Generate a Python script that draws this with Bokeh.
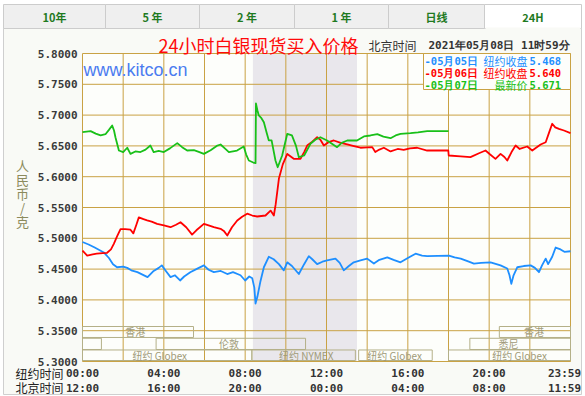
from bokeh.plotting import figure
from bokeh.models import Range1d
from bokeh.core.properties import value
from bokeh.embed import file_html
from bokeh.resources import INLINE

# ---------------- data ----------------
blue_h = [0.0, 0.3, 0.6, 1.05, 1.3, 1.5, 1.7, 2.0, 2.2, 2.4, 2.7, 2.95, 3.2, 3.5, 3.75, 3.9, 4.1, 4.33,
          4.55, 4.8, 5.0, 5.3, 5.6, 5.97, 6.2, 6.46, 6.8, 7.12, 7.4, 7.77, 8.0, 8.2, 8.35, 8.45, 8.51,
          8.6, 8.75, 8.92, 9.16, 9.4, 9.66, 9.9, 10.07, 10.3, 10.64, 10.9, 11.13, 11.3, 11.54, 11.8,
          12.03, 12.44, 12.65, 12.85, 13.1, 13.34, 13.67, 14.0, 14.33, 14.6, 14.99, 15.3, 15.64, 16.0,
          16.38, 16.7, 16.95, 18.02, 18.3, 18.6, 19.0, 19.25, 19.6, 20.07, 20.56, 20.89, 21.0, 21.09,
          21.2, 21.38, 21.7, 22.04, 22.25, 22.45, 22.6, 22.78, 22.9, 23.1, 23.27, 23.51, 23.7, 24.0]
blue_v = [5.494, 5.490, 5.485, 5.477, 5.468, 5.458, 5.453, 5.454, 5.452, 5.448, 5.445, 5.441, 5.437,
          5.447, 5.452, 5.456, 5.447, 5.437, 5.440, 5.4315, 5.438, 5.445, 5.450, 5.456, 5.449, 5.445,
          5.447, 5.442, 5.445, 5.440, 5.4315, 5.438, 5.435, 5.420, 5.394, 5.405, 5.430, 5.453, 5.470,
          5.466, 5.458, 5.448, 5.461, 5.455, 5.442, 5.458, 5.471, 5.466, 5.458, 5.462, 5.464, 5.467,
          5.460, 5.448, 5.455, 5.461, 5.464, 5.467, 5.459, 5.465, 5.469, 5.465, 5.461, 5.468, 5.475,
          5.472, 5.471, 5.472, 5.469, 5.467, 5.462, 5.459, 5.460, 5.461, 5.456, 5.451, 5.440, 5.426,
          5.440, 5.453, 5.455, 5.456, 5.452, 5.445, 5.456, 5.467, 5.458, 5.470, 5.485, 5.482, 5.478,
          5.479]

red_h = [0.0, 0.23, 0.5, 0.7, 1.0, 1.21, 1.4, 1.54, 1.7, 1.87, 2.1, 2.36, 2.5, 2.65, 2.77, 3.0, 3.18,
         3.4, 3.67, 4.0, 4.33, 4.6, 4.82, 5.1, 5.39, 5.6, 5.97, 6.2, 6.46, 6.79, 6.95, 7.12, 7.35, 7.61,
         7.85, 8.1, 8.35, 8.59, 9.0, 9.25, 9.41, 9.5, 9.66, 9.85, 10.07, 10.39, 10.72, 10.9, 11.05, 11.3,
         11.54, 11.7, 11.87, 12.1, 12.36, 12.7, 13.02, 13.3, 13.67, 14.0, 14.25, 14.4, 14.6, 14.82,
         15.15, 15.5, 15.8, 16.1, 16.46, 16.95, 17.99, 18.01, 18.6, 19.08, 19.5, 19.82, 20.05, 20.31,
         20.56, 20.75, 20.89, 21.1, 21.3, 21.5, 21.87, 22.12, 22.53, 22.78, 22.95, 23.1, 23.25, 23.43,
         23.68, 24.0]
red_v = [5.480, 5.472, 5.474, 5.475, 5.476, 5.4765, 5.482, 5.491, 5.503, 5.515, 5.515, 5.514, 5.508,
         5.522, 5.534, 5.531, 5.529, 5.527, 5.5235, 5.521, 5.518, 5.522, 5.526, 5.518, 5.506, 5.513,
         5.5235, 5.521, 5.518, 5.5154, 5.512, 5.5045, 5.518, 5.529, 5.535, 5.540, 5.537, 5.5354, 5.537,
         5.545, 5.537, 5.555, 5.597, 5.620, 5.637, 5.629, 5.629, 5.640, 5.6506, 5.657, 5.664, 5.660,
         5.6506, 5.656, 5.6588, 5.655, 5.6523, 5.650, 5.647, 5.6475, 5.648, 5.640, 5.644, 5.647, 5.641,
         5.645, 5.6436, 5.646, 5.647, 5.6425, 5.6425, 5.6344, 5.633, 5.6317, 5.638, 5.6425, 5.636,
         5.629, 5.637, 5.632, 5.6263, 5.640, 5.6506, 5.645, 5.649, 5.6425, 5.6523, 5.656, 5.672, 5.686,
         5.680, 5.6777, 5.675, 5.6707]

green_h = [0.0, 0.4, 0.65, 0.89, 1.13, 1.3, 1.46, 1.55, 1.62, 1.79, 2.0, 2.2, 2.36, 2.6, 2.85, 3.1,
           3.34, 3.5, 3.75, 4.0, 4.3, 4.66, 4.9, 5.15, 5.48, 5.75, 5.97, 6.3, 6.6, 6.79, 7.0, 7.2, 7.6,
           7.93, 8.05, 8.18, 8.4, 8.51, 8.53, 8.6, 8.67, 8.8, 8.92, 9.05, 9.16, 9.3, 9.49, 9.6, 9.82,
           10.07, 10.3, 10.5, 10.64, 10.9, 11.21, 11.45, 11.7, 12.03, 12.52, 12.75, 13.02, 13.5, 13.84,
           14.16, 14.5, 14.8, 15.15, 15.4, 15.64, 16.13, 16.5, 16.95, 18.0]
green_v = [5.6723, 5.674, 5.670, 5.667, 5.669, 5.676, 5.683, 5.675, 5.664, 5.6425, 5.640, 5.647,
           5.637, 5.641, 5.640, 5.644, 5.6506, 5.640, 5.642, 5.640, 5.646, 5.6545, 5.648, 5.6425,
           5.643, 5.640, 5.637, 5.643, 5.650, 5.6523, 5.646, 5.640, 5.6425, 5.649, 5.636, 5.6263,
           5.623, 5.622, 5.719, 5.708, 5.6994, 5.695, 5.6885, 5.672, 5.659, 5.659, 5.6263, 5.6154,
           5.6344, 5.6696, 5.667, 5.650, 5.6317, 5.6344, 5.6534, 5.660, 5.664, 5.6588, 5.648, 5.655,
           5.6588, 5.6588, 5.6653, 5.6669, 5.669, 5.665, 5.6625, 5.667, 5.6696, 5.6707, 5.672, 5.674,
           5.674]

y_ticks = [5.30, 5.35, 5.40, 5.45, 5.50, 5.55, 5.60, 5.65, 5.70, 5.75, 5.80]
y_tick_labels = ["5.3000", "5.3500", "5.4000", "5.4500", "5.5000", "5.5500",
                 "5.6000", "5.6500", "5.7000", "5.7500", "5.8000"]
grid_hours = [0, 2, 4, 6, 8, 10, 12, 14, 16, 18, 20, 22, 24]
x_ticks = [0, 4, 8, 12, 16, 20, 24]
ny_labels = ["00:00", "04:00", "08:00", "12:00", "16:00", "20:00", "23:59"]
bj_labels = ["12:00", "16:00", "20:00", "00:00", "04:00", "08:00", "11:59"]
nymex_start, nymex_end = 8.38, 13.5

legend_dates = ["-05月05日", "-05月06日", "-05月07日"]
legend_names = ["纽约收盘", "纽约收盘", "最新价"]
legend_values = ["5.468", "5.640", "5.671"]
series_colors = ["#1e8fff", "#ff0000", "#19c019"]

tabs = ["10年", "5 年", "2 年", "1 年", "日线", "24H"]

sess_name = ["香港", "香港", "", "伦敦", "悉尼", "纽约 Globex", "纽约 NYMEX", "纽约 Globex", "纽约 Globex"]
sess_start = [0, 20.5, 0, 3.62, 19.05, 0, 8.33, 13.58, 18.0]
sess_end = [5.46, 24, 0.93, 10.97, 24, 8.33, 13.42, 17.2, 24]
sess_row = [0, 0, 1, 1, 1, 2, 2, 2, 2]
sess_label_h = [2.6, 22.2, 0.5, 7.2, 20.95, 3.8, 11.0, 15.35, 21.5]

y_title_chars = ["人", "民", "币", "/", "克"]

# ---------------- layout ----------------
W, H = 585, 396
PL, PR, PT, PB = 82, 570, 53, 361
X0, X1, Y0, Y1 = 0.0, 24.0, 5.3, 5.8
KX = (PR - PL) / (X1 - X0)
KY = (PB - PT) / (Y1 - Y0)


def X(px):
    return X0 + (px - PL) / KX


def Y(py):
    return Y1 - (py - PT) / KY


p = figure(width=W, height=H, x_range=Range1d(X(0), X(W)), y_range=Range1d(Y(H), Y(0)),
           x_axis_type=None, y_axis_type=None, min_border=0, toolbar_location=None,
           output_backend="svg", outline_line_color=None, background_fill_color="white",
           border_fill_color="white")
p.grid.visible = False

GOLD = "#c9a244"
BOX = "#b4b088"
BOXTXT = "#a09a78"
MONO = value("DejaVu Sans Mono")
CJK = value("Noto Sans CJK SC")

# panel
p.quad(left=X(3), right=X(581), top=Y(28), bottom=Y(394), fill_color="#f9faf6",
       line_color="#cfcfcf", line_width=1)
# tabs
tb = [3, 105, 199, 294, 388, 484, 581]
p.quad(left=[X(v) for v in tb[:-1]], right=[X(v) for v in tb[1:]], top=Y(4), bottom=Y(28),
       fill_color=["#efefef"] * 5 + ["#ffffff"], line_color="#cccccc", line_width=1)
p.segment(x0=X(485), x1=X(580), y0=Y(28), y1=Y(28), line_color="#f9faf6", line_width=2)
p.text(x=[(X(a) + X(b)) / 2 for a, b in zip(tb[:-1], tb[1:])], y=Y(16.5), text=tabs,
       text_font=CJK, text_font_size="11px", text_font_style="bold",
       text_color="#1f7a1f", text_align="center", text_baseline="middle")

# plot area
p.quad(left=X0, right=X1, top=Y1, bottom=Y0, fill_color="#fdfefb", line_color=None)
p.quad(left=nymex_start, right=nymex_end, top=Y1, bottom=Y0, fill_color="#e9e7ec",
       line_color=None)

# grid
p.segment(x0=grid_hours, x1=grid_hours, y0=Y0, y1=Y1, line_color=GOLD, line_width=1)
p.segment(x0=X0, x1=X1, y0=y_ticks, y1=y_ticks, line_color=GOLD, line_width=1)

# market sessions
row_top = [5.3568, 5.3377, 5.3187]
row_bot = [5.3390, 5.3195, 5.3016]
p.quad(left=sess_start, right=sess_end, top=[row_top[r] for r in sess_row],
       bottom=[row_bot[r] for r in sess_row], fill_color=None, line_color=BOX, line_width=1)
p.text(x=sess_label_h, y=[(row_top[r] + row_bot[r]) / 2 for r in sess_row], text=sess_name,
       text_font=CJK, text_font_size="10px", text_color=BOXTXT,
       text_align="center", text_baseline="middle")

# series
for hh, vv, c in [(blue_h, blue_v, series_colors[0]), (red_h, red_v, series_colors[1]),
                  (green_h, green_v, series_colors[2])]:
    p.line(hh, vv, line_color=c, line_width=1.8, line_join="round")

# legend box
p.quad(left=X(423), right=X1, top=Y1, bottom=Y(89), fill_color="#fdfefb", line_color=GOLD,
       line_width=1)
ly = [Y(60), Y(72), Y(84)]
p.text(x=X(424), y=ly, text=legend_dates, text_font=MONO,
       text_font_size="10.5px", text_font_style="bold", text_color=series_colors,
       text_align="left", text_baseline="middle")
p.text(x=X(527), y=ly, text=legend_names, text_font=CJK, text_font_size="11px",
       text_color=series_colors, text_align="right", text_baseline="middle")
p.text(x=X(529), y=ly, text=legend_values, text_font=MONO, text_font_size="10.5px",
       text_font_style="bold", text_color=series_colors, text_align="left",
       text_baseline="middle")

# title row
p.text(x=X(258), y=Y(44), text=["24小时白银现货买入价格"], text_font=CJK,
       text_font_size="18px", text_color="#ff0a0a", text_align="center", text_baseline="middle")
p.text(x=X(368), y=Y(45), text=["北京时间"], text_font=CJK,
       text_font_size="12px", text_color="#333333", text_align="left", text_baseline="middle")
p.text(x=X(428), y=Y(45), text=["2021年05月08日 11时59分"], text_font=MONO,
       text_font_size="11px", text_font_style="bold", text_color="#333333", text_align="left",
       text_baseline="middle")
p.text(x=X(83), y=Y(69), text=["www.kitco.cn"], text_font=value("Liberation Sans"),
       text_font_size="18px", text_color="#4b7cf0", text_align="left", text_baseline="middle")

# y axis
p.text(x=X(77), y=y_ticks, text=y_tick_labels, text_font=MONO,
       text_font_size="11px", text_font_style="bold", text_color="#3a3a3a",
       text_align="right", text_baseline="middle")
p.text(x=X(22), y=[Y(v) for v in [165, 179, 193, 207, 221]], text=y_title_chars,
       text_font=CJK, text_font_size="13px", text_color="#8c8a5c", text_align="center",
       text_baseline="middle")

# x axis
p.text(x=X(15), y=[Y(373), Y(387)], text=["纽约时间", "北京时间"], text_font=CJK,
       text_font_size="12px", text_color="#222222", text_align="left", text_baseline="middle")
offs = [0, 0, 0, 0, 0, 0, -6]
p.text(x=x_ticks, y=Y(373), text=ny_labels, x_offset=offs, text_font=MONO,
       text_font_size="11px", text_font_style="bold", text_color="#333333",
       text_align="center", text_baseline="middle")
p.text(x=x_ticks, y=Y(387.5), text=bj_labels, x_offset=offs, text_font=MONO,
       text_font_size="11px", text_font_style="bold", text_color="#333333",
       text_align="center", text_baseline="middle")

open("out.html", "w").write(file_html(p, INLINE))
